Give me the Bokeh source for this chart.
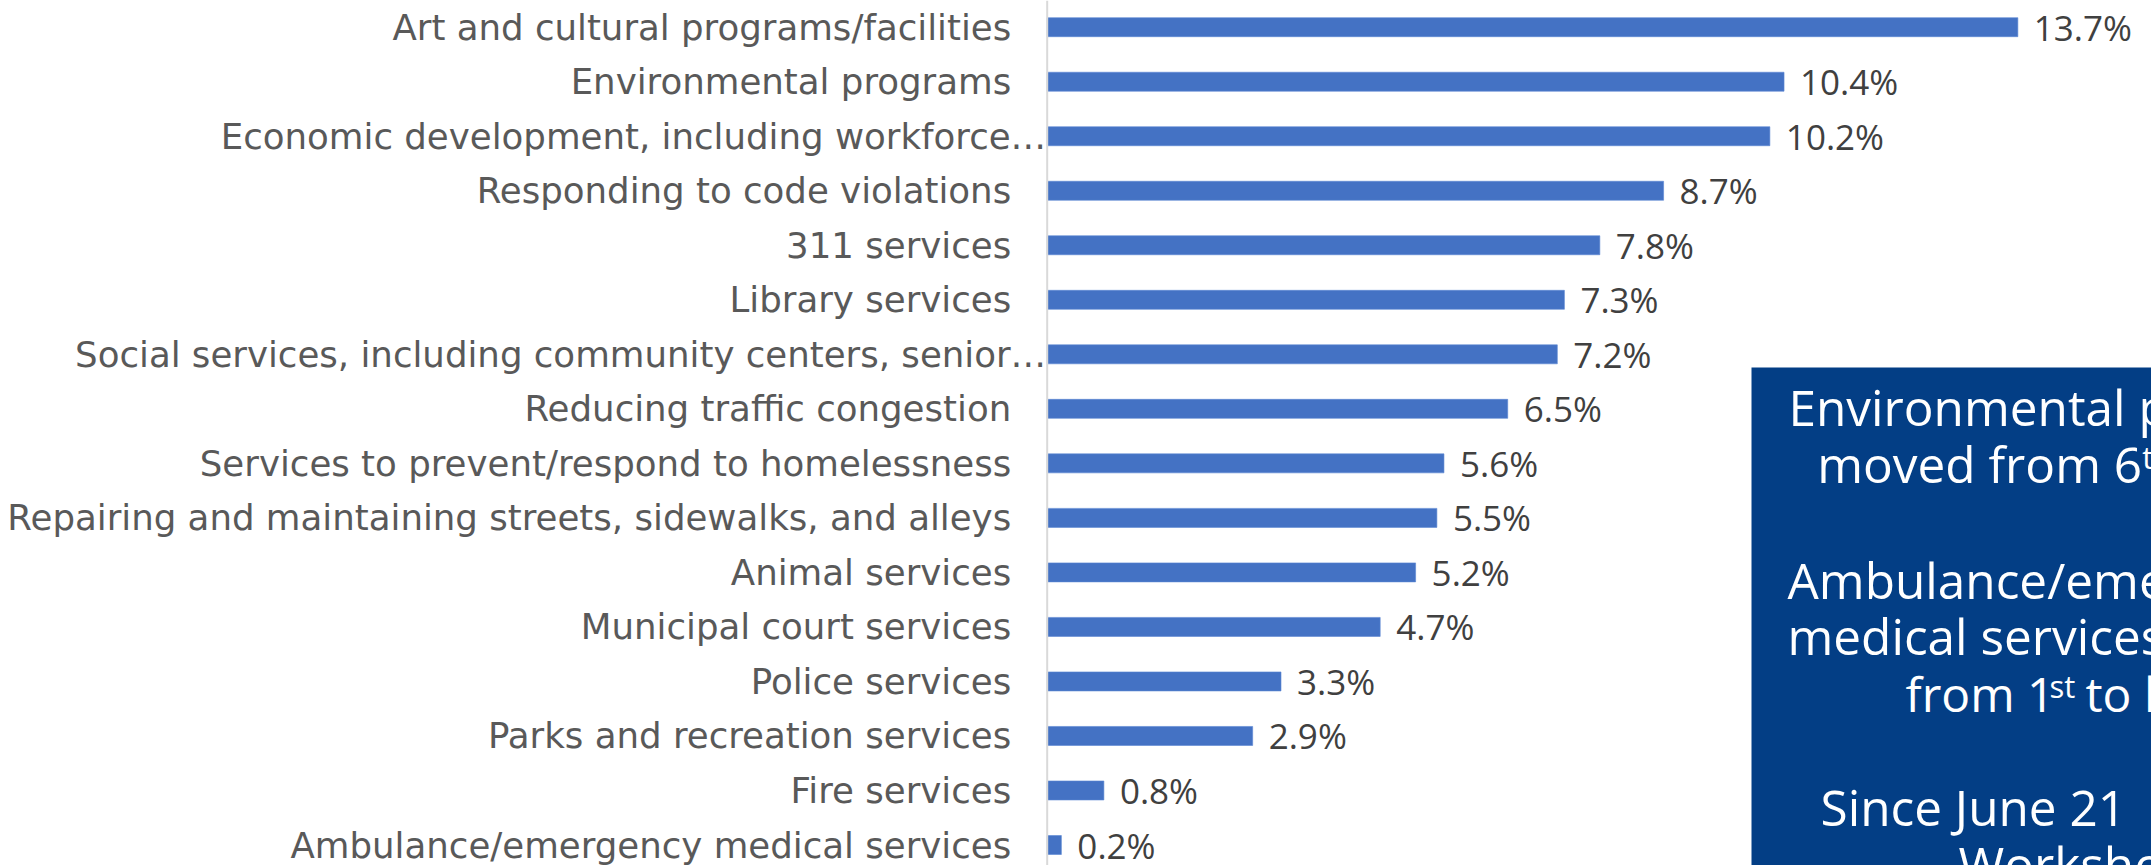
import numpy as np
from bokeh.plotting import figure
from bokeh.models import ColumnDataSource, Range1d, Span, BoxAnnotation, Label
from bokeh.core.properties import value
from bokeh.embed import file_html
from bokeh.resources import INLINE

# ---------------- data ----------------
categories = [
    "Art and cultural programs/facilities",
    "Environmental programs",
    "Economic development, including workforce\u2026",
    "Responding to code violations",
    "311 services",
    "Library services",
    "Social services, including community centers, senior\u2026",
    "Reducing traffic congestion",
    "Services to prevent/respond to homelessness",
    "Repairing and maintaining streets, sidewalks, and alleys",
    "Animal services",
    "Municipal court services",
    "Police services",
    "Parks and recreation services",
    "Fire services",
    "Ambulance/emergency medical services",
]
values = [13.7, 10.4, 10.2, 8.7, 7.8, 7.3, 7.2, 6.5, 5.6, 5.5, 5.2, 4.7, 3.3, 2.9, 0.8, 0.2]

note_lines = [
    "Environmental programs",
    "moved from 6", "th",
    "Ambulance/emergency",
    "medical services",
    "from 1", "st", "to last",
    "Since June 21",
    "Workshop",
]

# ---------------- layout ----------------
W, H = 2151, 865
AXIS_PX = 1046.7          # x pixel of the value axis (0 %)
PX_PER_UNIT = 70.85       # pixels per percentage point
ROW0_PX = 26.7            # y pixel of first row centre
ROW_PX = 54.52            # row spacing in pixels

x_start = -AXIS_PX / PX_PER_UNIT
x_end = (W - AXIS_PX) / PX_PER_UNIT
y_top = -ROW0_PX / ROW_PX
y_bottom = (H - ROW0_PX) / ROW_PX

p = figure(width=W, height=H, output_backend="svg", toolbar_location=None,
           x_range=Range1d(x_start, x_end), y_range=Range1d(y_bottom, y_top),
           x_axis_type=None, y_axis_type=None, min_border=0)
p.outline_line_color = None
p.grid.visible = False
p.background_fill_color = "white"
p.border_fill_color = "white"

pos = np.arange(len(categories))
src = ColumnDataSource(dict(
    y=pos,
    cat=categories,
    val=values,
    val_txt=[f"{v:.1f}%" for v in values],
    cat_off=[-1 if c.endswith("\u2026") else -36 for c in categories],
))

# bars
p.hbar(y="y", left=0, right="val", height=19 / ROW_PX, source=src,
       fill_color="#4472C4", line_color="#5B87D4", line_width=0.6)

# axis line
p.add_layout(Span(location=0, dimension="height", line_color="#D9D9D9", line_width=2))

# category labels
p.text(x=0, y="y", text="cat", source=src, x_offset="cat_off", y_offset=0,
       text_align="right", text_baseline="middle",
       text_font=value("DejaVu Sans"), text_font_size="35.6px", text_color="#595959")

# value labels
p.text(x="val", y="y", text="val_txt", source=src, x_offset=16, y_offset=0,
       text_align="left", text_baseline="middle",
       text_font=value("Open Sans"), text_font_size="35px", text_color="#404040")

# ---------------- note box ----------------
BOX_LEFT, BOX_TOP = 1751, 367
p.add_layout(BoxAnnotation(left=BOX_LEFT, left_units="screen",
                           top=H - BOX_TOP, top_units="screen",
                           fill_color="#033E85", fill_alpha=1.0, line_color=None,
                           level="overlay"))

def note(txt, x, mid_y, size="49.5px"):
    p.add_layout(Label(x=x, y=H - mid_y, x_units="screen", y_units="screen",
                       text=txt, text_align="left", text_baseline="middle",
                       text_font="Open Sans", text_font_size=size,
                       text_color="white", level="overlay"))

note(note_lines[0], 1788, 406.5)
note(note_lines[1], 1816.7, 463.2)
note(note_lines[2], 2141.7, 456, "31px")
note(note_lines[3], 1787, 579.2)
note(note_lines[4], 1787, 635.8)
note(note_lines[5], 1905, 692.5, "48px")
note(note_lines[6], 2049, 685, "31px")
note(note_lines[7], 2085, 692.5, "48px")
note(note_lines[8], 1820, 806.5)
note(note_lines[9], 1958, 863.2)

open("out.html", "w").write(file_html(p, INLINE))
